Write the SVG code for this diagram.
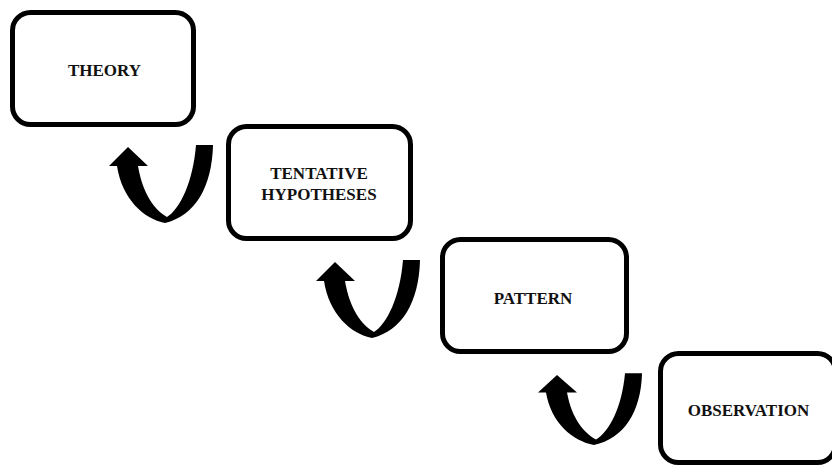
<svg xmlns="http://www.w3.org/2000/svg" width="832" height="466" viewBox="0 0 832 466">
<style>
.box{fill:#fff;stroke:#000;stroke-width:5}
.lbl{font-family:"Liberation Serif","Times New Roman",serif;font-weight:bold;font-size:17px;fill:#111;text-anchor:middle}
.arr{fill:#000}
</style>
<defs>
<path id="uarrow" class="arr" d="M0 0 L20 19 L10 19 C15 48 27 63 39 70 C52 62 65 35 68 -2 L85 -2 C84 40 67 69 37 76 C16 72 -6 52 -11 19 L-19 19 Z"/>
</defs>
<rect width="832" height="466" fill="#fff"/>
<g id="connectors">
<use href="#uarrow" transform="translate(128,147)"/>
<use href="#uarrow" transform="translate(335,262)"/>
<use href="#uarrow" transform="translate(557,375) scale(1,0.92)"/>
</g>
<g id="theory">
<rect class="box" x="12.5" y="12.5" width="181" height="112" rx="18"/>
<text class="lbl" x="104.5" y="76">THEORY</text>
</g>
<g id="tentative">
<rect class="box" x="228.5" y="126.5" width="182" height="112" rx="18"/>
<text class="lbl" x="319" y="179">TENTATIVE</text>
<text class="lbl" x="319" y="200">HYPOTHESES</text>
</g>
<g id="pattern">
<rect class="box" x="442.5" y="239.5" width="184" height="112" rx="18"/>
<text class="lbl" x="533" y="304">PATTERN</text>
</g>
<g id="observation">
<rect class="box" x="660.5" y="353.5" width="175" height="109" rx="18"/>
<text class="lbl" x="748.5" y="416">OBSERVATION</text>
</g>
</svg>
